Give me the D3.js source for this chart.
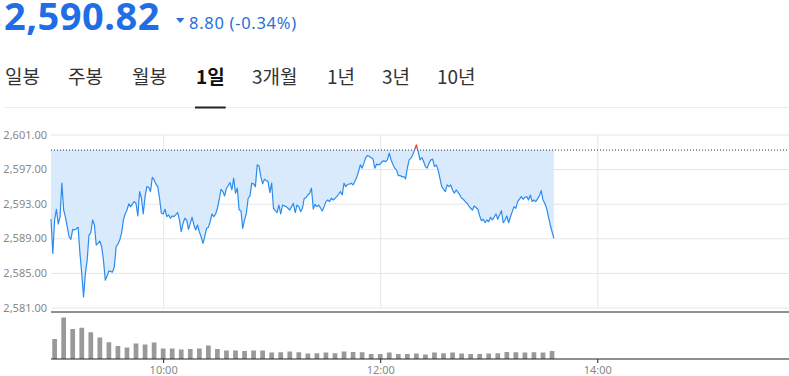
<!DOCTYPE html>
<html><head><meta charset="utf-8">
<script src="https://cdn.jsdelivr.net/npm/d3@7"></script>
<style>
html,body{margin:0;padding:0;background:#fff;}
svg{display:block;}
</style></head><body>
<svg id="c" width="789" height="376"></svg>
<script>
// ---------------- data ----------------
const lastPrice = "2,590.82";
const changeText = "8.80 (-0.34%)";
const tabs = ["일봉","주봉","월봉","1일","3개월","1년","3년","10년"];
const activeTab = "1일";
const yTicks = [2581, 2585, 2589, 2593, 2597, 2601];
const xTickLabels = ["10:00", "12:00", "14:00"];
const prevClose = 2599.2;

// minute of the session (minutes after 09:00) for each price reading
const minutesFromOpen = [
  -2,-1,0,1,2,3,4,5,6,8,
  9,10,11,12,13,14,15,16,17,18,
  19,20,21,22,23,24,25,26,27,28,
  29,30,32,33,34,35,36,37,38,39,
  40,41,42,43,44,45,46,47,48,49,
  50,51,52,53,54,55,56,57,58,59,
  60,61,62,63,64,65,66,68,69,70,
  71,72,73,74,75,76,77,78,79,80,
  81,82,83,84,85,86,87,88,89,90,
  91,92,93,94,95,97,98,99,100,101,
  102,103,104,105,106,107,108,109,110,111,
  112,113,114,115,116,117,118,119,120,121,
  122,123,124,125,126,128,129,130,131,132,
  133,134,135,136,137,138,139,140,141,142,
  143,144,145,146,148,149,150,151,152,153,
  154,156,157,158,159,160,161,162,163,164,
  165,167,168,169,170,171,172,173,174,176,
  177,178,179,180,181,182,183,184,185,186,
  187,188,189,190,191,192,193,194,195,196,
  197,198,199,200,201,202,203,204,205,206,
  207,208,209,210,211,212,213,214,216,217,
  218,219,220,221,222,224,225,226,227,228,
  229,230,231,232,234,235,236,237,238,239,
  240,241,242,244,245,246,247,248,249,250,
  251,252,253,254,255,256,258,259,260,261,
  262,263,264,265,266,268,269,270,271,272,
  273,274,275,276
];
const prices = [
  2591.23,2587.26,2591.12,2592.36,2590.65,2591.50,2595.37,2592.27,2591.43,2589.18,
  2588.88,2590.04,2589.96,2590.11,2590.27,2587.26,2584.94,2582.23,2584.94,2586.48,
  2589.38,2589.64,2591.12,2590.54,2588.22,2588.42,2588.68,2588.02,2586.48,2584.16,
  2584.63,2585.24,2585.09,2585.70,2588.02,2588.33,2588.80,2589.57,2591.12,2591.81,
  2592.27,2592.97,2592.66,2592.97,2593.24,2593.05,2591.58,2594.40,2593.63,2591.81,
  2593.82,2594.97,2594.90,2594.40,2596.06,2595.75,2595.29,2594.97,2593.63,2591.89,
  2591.81,2592.36,2591.50,2591.70,2591.31,2591.58,2591.50,2591.96,2591.12,2589.76,
  2590.73,2591.31,2591.12,2590.04,2590.73,2591.43,2590.54,2589.96,2590.54,2589.76,
  2589.18,2588.42,2589.18,2590.15,2590.27,2590.92,2591.81,2591.50,2591.81,2592.47,
  2593.51,2594.67,2594.40,2593.90,2594.79,2595.44,2594.59,2595.95,2594.21,2594.79,
  2592.27,2592.19,2590.15,2591.12,2591.89,2593.63,2593.90,2595.37,2595.29,2594.97,
  2597.49,2597.37,2596.13,2595.29,2595.83,2595.67,2595.55,2594.28,2595.37,2592.47,
  2592.19,2591.96,2592.85,2591.81,2592.85,2592.66,2592.47,2592.27,2592.66,2593.05,
  2591.96,2592.85,2592.66,2592.08,2592.47,2593.63,2593.70,2594.01,2594.21,2594.79,
  2592.39,2592.93,2592.66,2592.85,2592.16,2592.66,2593.24,2593.43,2593.24,2593.63,
  2593.43,2593.82,2594.09,2594.40,2594.01,2595.37,2594.97,2595.25,2595.25,2595.37,
  2595.17,2596.02,2596.71,2597.49,2597.11,2597.69,2598.33,2598.57,2598.45,2598.18,
  2597.11,2597.57,2597.49,2597.57,2597.87,2597.95,2597.87,2598.07,2598.84,2598.07,
  2597.57,2597.11,2596.91,2596.25,2596.25,2596.13,2596.13,2595.87,2597.11,2598.07,
  2598.27,2598.65,2599.23,2599.81,2599.03,2598.07,2598.33,2597.87,2597.29,2597.11,
  2597.69,2598.07,2598.15,2597.29,2597.49,2596.91,2595.95,2594.97,2594.40,2595.17,
  2594.97,2595.17,2594.59,2594.21,2594.59,2594.01,2593.63,2593.51,2593.24,2593.05,
  2592.74,2592.47,2592.27,2592.74,2592.36,2591.58,2591.03,2591.20,2590.80,2591.12,
  2590.92,2591.43,2591.12,2591.81,2591.20,2591.70,2592.19,2590.80,2591.12,2591.58,
  2590.80,2591.50,2592.08,2592.66,2592.47,2593.24,2593.82,2593.51,2593.75,2593.82,
  2593.43,2594.01,2593.24,2593.43,2593.24,2593.90,2594.51,2593.43,2593.05,2592.47,
  2591.50,2590.54,2589.76,2589.00
];

// 5-minute volume bars (minutes after 09:00), in thousands of shares
const volumeMinutes = [
  0,5,10,15,20,25,30,35,40,45,
  50,55,60,65,70,75,80,85,90,95,
  100,105,110,115,120,125,130,135,140,145,
  150,155,160,165,170,175,180,185,190,195,
  200,205,210,215,220,225,230,235,240,245,
  250,255,260,265,270,275
];
const volumes = [
  400,830,600,625,535,430,335,260,230,310,
  290,330,210,210,190,200,210,270,200,170,
  170,160,170,170,130,135,150,135,110,115,
  130,115,150,140,135,100,100,130,100,100,
  110,90,130,115,130,110,100,100,110,115,
  140,135,130,135,130,160
];

// ---------------- drawing ----------------
const svg = d3.select("#c");
const W = 789, H = 376;
const plotL = 51, plotR = 789;
const priceTopPx = 134.5, priceBotPx = 307.5;
const volTopPx = 312, volBotPx = 359;

const t = m => new Date(2024, 0, 2, 9, m);
const parseHM = s => { const [h, mm] = s.split(":").map(Number); return new Date(2024, 0, 2, h, mm); };

const x = d3.scaleTime().domain([t(-2), t(406)]).range([plotL, plotR]);
const y = d3.scaleLinear().domain([yTicks[0], yTicks[yTicks.length - 1]]).range([priceBotPx, priceTopPx]);
const yv = d3.scaleLinear().domain([0, 940]).range([volBotPx, volTopPx]);

const data = minutesFromOpen.map((m, i) => ({ t: t(m), v: prices[i] }));
const vol = volumeMinutes.map((m, i) => ({ t: t(m), v: volumes[i] }));

// ---- header ----
const blue = "#1f6ee6";
svg.append("text").attr("x", 4).attr("y", 30)
  .attr("font-family", "'Noto Sans', sans-serif").attr("font-weight", 700)
  .attr("font-size", 38).attr("fill", blue).attr("letter-spacing", 0.5).text(lastPrice);
svg.append("path").attr("d", "M176,18 L184.5,18 L180.25,23 Z").attr("fill", "#2a6fdc");
svg.append("text").attr("x", 189).attr("y", 28.5)
  .attr("font-family", "'Noto Sans', sans-serif").attr("font-size", 16.5)
  .attr("letter-spacing", 0.7)
  .attr("fill", "#2a6fdc").text(changeText);

// ---- tabs ----
const tabX = [5, 68, 132, 196, 252, 327, 382, 437];
const tabG = svg.append("g");
tabs.forEach((label, i) => {
  const active = label === activeTab;
  const te = tabG.append("text").attr("x", tabX[i]).attr("y", 84)
    .attr("font-family", "'Noto Sans CJK KR', 'Noto Sans', sans-serif")
    .attr("font-size", 19).attr("font-weight", active ? 700 : 400)
    .attr("fill", active ? "#111" : "#333").text(label);
  if (active) {
    const w = te.node().getComputedTextLength();
    svg.append("rect").attr("x", tabX[i] - 1).attr("y", 106.5).attr("width", w + 2).attr("height", 2).attr("fill", "#222");
  }
});
svg.insert("rect", ":first-child").attr("x", 5).attr("y", 107).attr("width", W - 5).attr("height", 1).attr("fill", "#ececec");

// ---- price grid (y axis) ----
const yAxis = d3.axisLeft(y).tickValues(yTicks).tickFormat(d3.format(",.2f"))
  .tickSize(-(plotR - plotL)).tickPadding(4);
const gy = svg.append("g").attr("transform", `translate(${plotL},0)`).call(yAxis);
gy.select(".domain").remove();
gy.selectAll(".tick line").attr("stroke", "#e6e6e6");
gy.selectAll(".tick text").attr("fill", "#888").attr("font-size", 11)
  .attr("font-family", "'Noto Sans', sans-serif");

// vertical grid lines
const xTickDates = xTickLabels.map(parseHM);
const xGrid = d3.axisBottom(x).tickValues(xTickDates).tickSize(-(priceBotPx - priceTopPx)).tickFormat("");
const gx = svg.append("g").attr("transform", `translate(0,${priceBotPx})`).call(xGrid);
gx.select(".domain").remove();
gx.selectAll(".tick line").attr("stroke", "#e6e6e6");

// ---- clip paths ----
const defs = svg.append("defs");
defs.append("clipPath").attr("id", "below").append("rect")
  .attr("x", 0).attr("y", y(prevClose)).attr("width", W).attr("height", volTopPx - y(prevClose));
defs.append("clipPath").attr("id", "above").append("rect")
  .attr("x", 0).attr("y", 0).attr("width", W).attr("height", y(prevClose));

// ---- area + line ----
const area = d3.area().x(d => x(d.t)).y0(y(prevClose)).y1(d => y(d.v));
const line = d3.line().x(d => x(d.t)).y(d => y(d.v));

svg.append("path").datum(data).attr("d", area).attr("fill", "#d9eafc").attr("clip-path", "url(#below)");
svg.append("path").datum(data).attr("d", area).attr("fill", "#fde0e0").attr("clip-path", "url(#above)");

// previous-close dotted line
svg.append("line").attr("x1", plotL).attr("x2", plotR)
  .attr("y1", y(prevClose)).attr("y2", y(prevClose))
  .attr("stroke", "#333").attr("stroke-width", 1).attr("stroke-dasharray", "1,2");

svg.append("path").datum(data).attr("d", line).attr("fill", "none")
  .attr("stroke", "#2b8cf0").attr("stroke-width", 1.2).attr("stroke-linejoin", "round")
  .attr("clip-path", "url(#below)");
svg.append("path").datum(data).attr("d", line).attr("fill", "none")
  .attr("stroke", "#f03c3c").attr("stroke-width", 1.2).attr("stroke-linejoin", "round")
  .attr("clip-path", "url(#above)");

// ---- volume pane ----
svg.append("line").attr("x1", plotL).attr("x2", plotR).attr("y1", volTopPx).attr("y2", volTopPx)
  .attr("stroke", "#222").attr("stroke-width", 1.2);

const step = x(t(5)) - x(t(0));
const bw = step * 0.52;
svg.append("g").selectAll("rect").data(vol).join("rect")
  .attr("x", d => x(d.t) - bw / 2).attr("width", bw)
  .attr("y", d => yv(d.v)).attr("height", d => yv(0) - yv(d.v))
  .attr("fill", "#999");

const xAxis = d3.axisBottom(x).tickValues(xTickDates).tickFormat(d3.timeFormat("%H:%M"))
  .tickSize(4).tickSizeOuter(0).tickPadding(3);
const gxa = svg.append("g").attr("transform", `translate(0,${volBotPx})`).call(xAxis);
gxa.select(".domain").attr("stroke", "#222").attr("stroke-width", 1.2)
  .attr("d", `M${plotL},0H${plotR}`);
gxa.selectAll(".tick line").attr("stroke", "#222");
gxa.selectAll(".tick text").attr("fill", "#888").attr("font-size", 11)
  .attr("font-family", "'Noto Sans', sans-serif");
</script>
</body></html>
